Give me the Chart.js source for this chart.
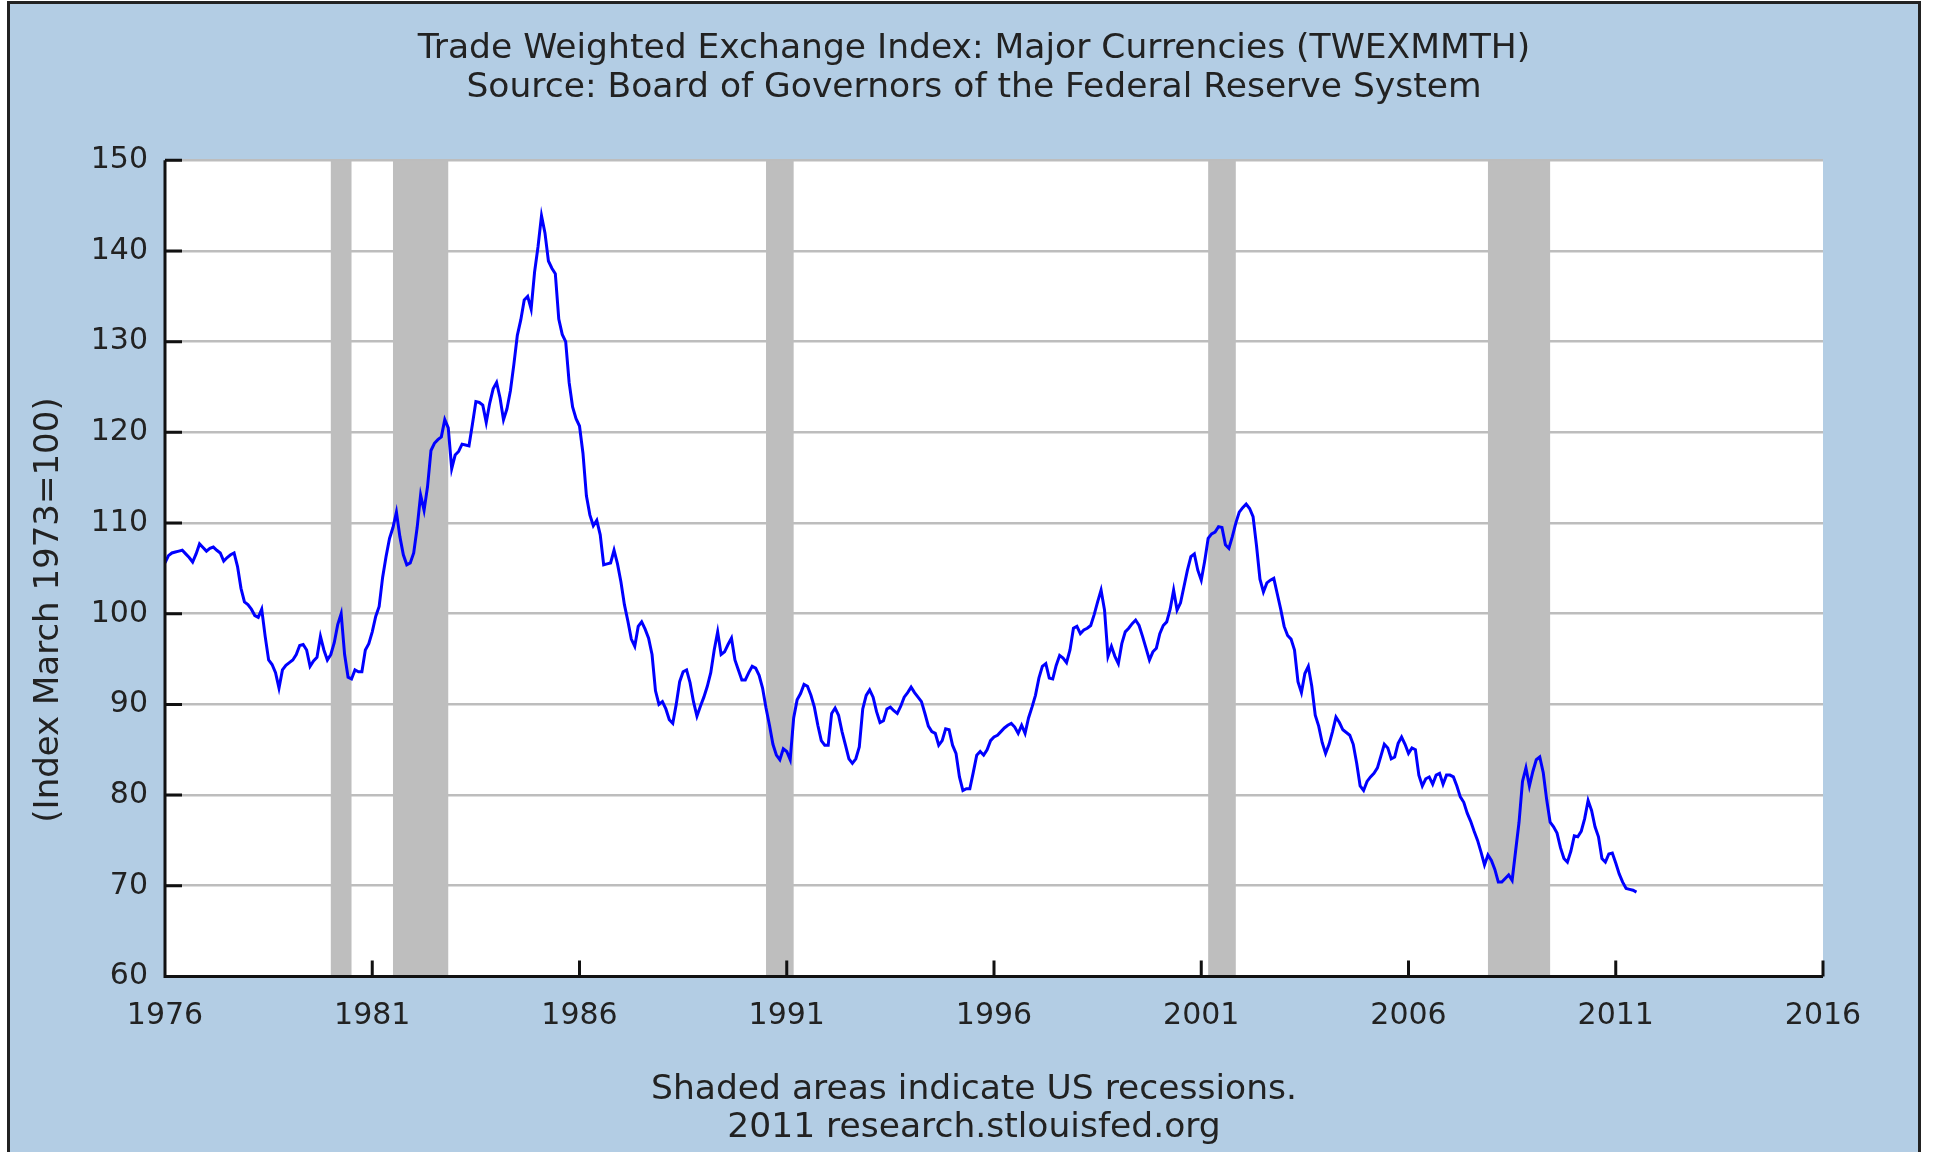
<!DOCTYPE html>
<html>
<head>
<meta charset="utf-8">
<title>Trade Weighted Exchange Index: Major Currencies (TWEXMMTH)</title>
<script src="https://cdn.jsdelivr.net/npm/chart.js@4.4.1/dist/chart.umd.min.js"></script>
<style>
  html, body { margin: 0; padding: 0; background: #fff; }
  canvas { display: block; }
</style>
</head>
<body>
<canvas id="chart" width="1933" height="1152"></canvas>
<script>
// monthly index, first value is Jan 1976, last is Jul 2011
var startYear = 1976;
var indexValues = [
  105.6, 106.4, 106.7, 106.8, 106.9, 107.0, 106.6, 106.2, 105.7, 106.6, 107.7, 107.3, // 1976
  106.9, 107.2, 107.35, 107.0, 106.7, 105.8, 106.2, 106.5, 106.7, 105.2, 102.8, 101.3, // 1977
  101.0, 100.5, 99.8, 99.6, 100.5, 97.5, 94.9, 94.4, 93.5, 91.8, 93.8, 94.3, // 1978
  94.6, 94.9, 95.5, 96.5, 96.6, 96.0, 94.2, 94.8, 95.2, 97.5, 96.0, 94.9, // 1979
  95.5, 96.8, 98.8, 100.0, 95.5, 93.0, 92.8, 93.8, 93.6, 93.6, 96.0, 96.7, // 1980
  98.0, 99.7, 100.8, 104.0, 106.3, 108.3, 109.5, 111.2, 108.5, 106.5, 105.4, 105.6, // 1981
  106.7, 109.5, 113.1, 111.4, 114.0, 118.0, 118.8, 119.2, 119.5, 121.4, 120.5, 116.0, // 1982
  117.5, 117.9, 118.7, 118.6, 118.5, 120.9, 123.4, 123.3, 123.0, 121.1, 123.2, 124.8, // 1983
  125.5, 123.8, 121.4, 122.6, 124.6, 127.5, 130.7, 132.4, 134.6, 135.0, 133.6, 137.7, // 1984
  140.5, 143.9, 142.0, 138.9, 138.1, 137.5, 132.5, 130.8, 130.0, 125.5, 122.8, 121.5, // 1985
  120.7, 117.7, 113.0, 110.9, 109.7, 110.3, 108.7, 105.4, 105.5, 105.6, 107.0, 105.5, // 1986
  103.5, 101.0, 99.2, 97.2, 96.4, 98.6, 99.1, 98.3, 97.3, 95.5, 91.5, 90.0, // 1987
  90.3, 89.5, 88.3, 87.9, 90.0, 92.5, 93.6, 93.8, 92.4, 90.3, 88.7, 89.8, // 1988
  90.8, 92.0, 93.5, 96.0, 98.0, 95.5, 95.8, 96.6, 97.3, 94.9, 93.8, 92.7, // 1989
  92.7, 93.5, 94.2, 94.0, 93.2, 91.8, 89.6, 87.7, 85.6, 84.4, 83.9, 85.1, // 1990
  84.8, 83.9, 88.5, 90.5, 91.2, 92.2, 92.0, 91.0, 89.7, 87.7, 86.0, 85.5, // 1991
  85.5, 89.0, 89.6, 88.8, 87.0, 85.5, 84.0, 83.5, 84.0, 85.3, 89.5, 91.0, // 1992
  91.6, 90.8, 89.2, 88.0, 88.2, 89.5, 89.7, 89.3, 89.0, 89.8, 90.8, 91.3, // 1993
  91.9, 91.3, 90.8, 90.3, 89.0, 87.6, 87.0, 86.8, 85.5, 86.0, 87.3, 87.2, // 1994
  85.5, 84.6, 82.0, 80.5, 80.7, 80.7, 82.5, 84.4, 84.8, 84.4, 85.0, 86.0, // 1995
  86.4, 86.6, 87.0, 87.4, 87.7, 87.9, 87.5, 86.8, 87.7, 86.8, 88.5, 89.7, // 1996
  91.0, 92.9, 94.2, 94.5, 92.9, 92.8, 94.3, 95.4, 95.1, 94.6, 96.0, 98.4, // 1997
  98.6, 97.8, 98.2, 98.4, 98.7, 99.9, 101.3, 102.6, 100.4, 95.3, 96.4, 95.3, // 1998
  94.5, 96.7, 98.0, 98.4, 98.9, 99.3, 98.7, 97.5, 96.2, 94.9, 95.8, 96.2, // 1999
  97.8, 98.7, 99.1, 100.5, 102.6, 100.4, 101.2, 103.0, 104.8, 106.3, 106.6, 104.8, // 2000
  103.7, 105.8, 108.3, 108.8, 109.0, 109.6, 109.5, 107.6, 107.2, 108.5, 110.0, 111.2, // 2001
  111.7, 112.1, 111.6, 110.7, 107.5, 103.8, 102.4, 103.4, 103.7, 103.9, 102.2, 100.5, // 2002
  98.6, 97.6, 97.2, 96.0, 92.5, 91.3, 93.4, 94.2, 92.0, 88.8, 87.6, 85.8, // 2003
  84.6, 85.6, 87.0, 88.6, 88.0, 87.2, 86.9, 86.6, 85.6, 83.5, 81.0, 80.5, // 2004
  81.5, 82.0, 82.4, 83.0, 84.3, 85.6, 85.2, 84.0, 84.2, 85.7, 86.4, 85.6, // 2005
  84.6, 85.2, 85.0, 82.2, 81.0, 81.8, 82.0, 81.2, 82.2, 82.4, 81.2, 82.2, // 2006
  82.2, 82.0, 81.0, 79.8, 79.2, 78.0, 77.1, 76.0, 75.0, 73.7, 72.3, 73.4, // 2007
  72.8, 71.8, 70.4, 70.4, 70.8, 71.2, 70.6, 73.8, 77.0, 81.5, 83.0, 81.0, // 2008
  82.6, 83.9, 84.2, 82.5, 79.5, 77.0, 76.5, 75.8, 74.2, 73.0, 72.6, 73.8, // 2009
  75.5, 75.4, 76.0, 77.4, 79.4, 78.3, 76.5, 75.4, 73.0, 72.6, 73.5, 73.6, // 2010
  72.5, 71.3, 70.4, 69.7, 69.6, 69.5, 69.3 // 2011
];

// US recessions: start year, start month, end year, end month
var recessions = [
  [1980, 1, 1980, 7],
  [1981, 7, 1982, 11],
  [1990, 7, 1991, 3],
  [2001, 3, 2001, 11],
  [2007, 12, 2009, 6]
];

var xTickYears = [1976, 1981, 1986, 1991, 1996, 2001, 2006, 2011, 2016];
var yTickValues = [60, 70, 80, 90, 100, 110, 120, 130, 140, 150];

var titleLines = ['Trade Weighted Exchange Index: Major Currencies (TWEXMMTH)',
                  'Source: Board of Governors of the Federal Reserve System'];
var footerLines = ['Shaded areas indicate US recessions.', '2011 research.stlouisfed.org'];
var yAxisTitle = '(Index March 1973=100)';

var textColor = '#222222';
var panelBlue = '#b3cde4';
var recessionGray = '#bebebe';

Chart.defaults.font.family = '"DejaVu Sans", Verdana, sans-serif';

var points = indexValues.map(function(v, i) {
  return { x: startYear + i / 12, y: v };
});

function monthToYear(y, m) {
  return y + (m - 1) / 12;
}

var framePlugin = {
  id: 'frame',
  beforeDraw: function(chart) {
    var ctx = chart.ctx, a = chart.chartArea;
    ctx.save();
    ctx.fillStyle = '#ffffff';
    ctx.fillRect(0, 0, chart.width, chart.height);
    ctx.fillStyle = panelBlue;
    ctx.fillRect(10, 4, chart.width - 24, chart.height);
    ctx.strokeStyle = '#222';
    ctx.lineWidth = 3;
    ctx.strokeRect(8.5, 2.5, chart.width - 22, chart.height + 10);
    ctx.fillStyle = '#ffffff';
    ctx.fillRect(a.left, a.top, a.right - a.left, a.bottom - a.top);
    ctx.restore();
  },
  beforeDatasetsDraw: function(chart) {
    var ctx = chart.ctx, a = chart.chartArea, xs = chart.scales.x;
    ctx.save();
    ctx.fillStyle = recessionGray;
    recessions.forEach(function(r) {
      var x0 = xs.getPixelForValue(monthToYear(r[0], r[1]));
      var x1 = xs.getPixelForValue(monthToYear(r[2], r[3]));
      ctx.fillRect(x0, a.top, x1 - x0, a.bottom - a.top);
    });
    ctx.restore();
  },
  afterDatasetsDraw: function(chart) {
    var ctx = chart.ctx, a = chart.chartArea;
    var xs = chart.scales.x, ys = chart.scales.y;
    ctx.save();
    ctx.strokeStyle = '#111';
    ctx.lineWidth = 3;
    ctx.beginPath();
    ctx.moveTo(a.left, a.top);
    ctx.lineTo(a.left, a.bottom);
    ctx.lineTo(a.right, a.bottom);
    // inward tick marks
    xs.ticks.forEach(function(t) {
      var px = xs.getPixelForValue(t.value);
      ctx.moveTo(px, a.bottom);
      ctx.lineTo(px, a.bottom - 16);
    });
    ys.ticks.forEach(function(t) {
      var py = ys.getPixelForValue(t.value);
      ctx.moveTo(a.left, py);
      ctx.lineTo(a.left + 17, py);
    });
    ctx.stroke();

    // y axis title, rotated
    ctx.fillStyle = textColor;
    ctx.font = '34px "DejaVu Sans", Verdana, sans-serif';
    ctx.textAlign = 'center';
    ctx.textBaseline = 'middle';
    ctx.translate(49, 610);
    ctx.rotate(-Math.PI / 2);
    ctx.fillText(yAxisTitle, 0, 0);
    ctx.restore();
  }
};

new Chart(document.getElementById('chart'), {
  type: 'line',
  data: {
    datasets: [{
      label: 'TWEXMMTH',
      data: points,
      borderColor: '#0000ff',
      borderWidth: 3,
      pointRadius: 0,
      tension: 0,
      fill: false
    }]
  },
  options: {
    responsive: false,
    animation: false,
    devicePixelRatio: 1,
    layout: { padding: { left: 15, right: 0, top: 0, bottom: 5 } },
    plugins: {
      legend: { display: false },
      tooltip: { enabled: false },
      title: {
        display: true,
        text: titleLines,
        color: textColor,
        font: { size: 34.5, weight: 'normal', lineHeight: 1.15 },
        padding: { top: 29, bottom: 52 }
      },
      subtitle: {
        display: true,
        position: 'bottom',
        text: footerLines,
        color: textColor,
        font: { size: 34.5, weight: 'normal', lineHeight: 1.11 },
        padding: { top: 0, bottom: 0 }
      }
    },
    scales: {
      x: {
        type: 'linear',
        min: 1976,
        max: 2016,
        afterBuildTicks: function(s) { s.ticks = xTickYears.map(function(v) { return { value: v }; }); },
        afterFit: function(s) { s.height = 94; },
        grid: { display: false, drawTicks: false },
        border: { display: false },
        ticks: {
          color: textColor,
          font: { size: 30 },
          padding: 22,
          maxRotation: 0,
          callback: function(v) { return String(v); }
        }
      },
      y: {
        min: 60,
        max: 150,
        afterBuildTicks: function(s) { s.ticks = yTickValues.map(function(v) { return { value: v }; }); },
        afterFit: function(s) { s.width = 150; },
        grid: { color: '#bdbdbd', lineWidth: 2.5, drawTicks: false },
        border: { display: false },
        ticks: {
          color: textColor,
          font: { size: 30 },
          padding: 17
        }
      },
      // empty right-hand box that keeps the plot clear of the panel edge
      yRight: {
        position: 'right',
        afterFit: function(s) { s.width = 110; },
        grid: { display: false, drawTicks: false },
        border: { display: false },
        ticks: { display: false }
      }
    }
  },
  plugins: [framePlugin]
});
</script>
</body>
</html>
